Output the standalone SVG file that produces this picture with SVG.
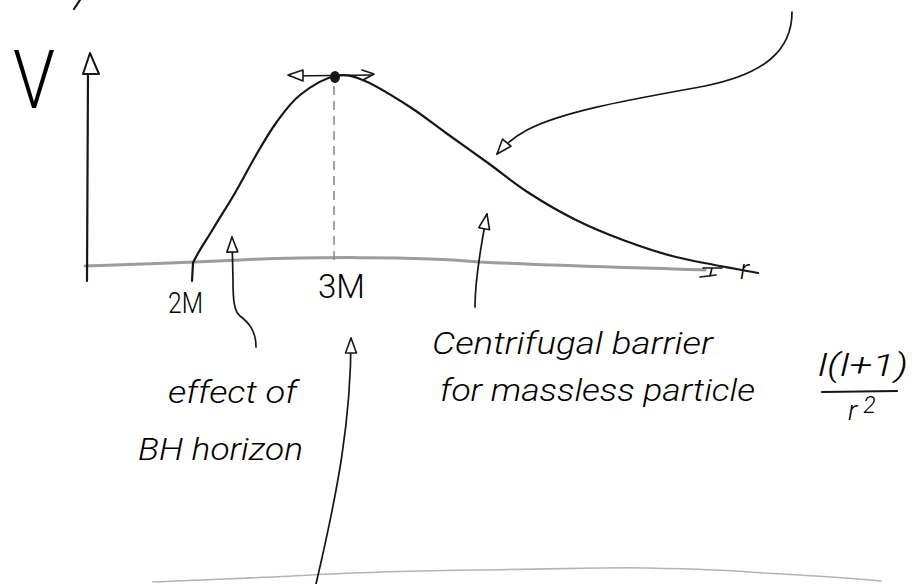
<svg xmlns="http://www.w3.org/2000/svg" width="921" height="584" viewBox="0 0 921 584">
  <style>
    .ink { fill: none; stroke: #161616; stroke-width: 2.2; stroke-linecap: round; stroke-linejoin: round; }
    .thin { fill: none; stroke: #161616; stroke-width: 1.7; stroke-linecap: round; stroke-linejoin: round; }
    .gray { fill: none; stroke: #9c9c9c; stroke-width: 3; stroke-linecap: round; }
    .faint { fill: none; stroke: #b4b4b4; stroke-width: 1.6; stroke-linecap: round; }
    .dash { fill: none; stroke: #8a8a8a; stroke-width: 1.6; stroke-dasharray: 9 6; }
    .hand { font-family: Roboto, "Liberation Sans", "DejaVu Sans", sans-serif; font-weight: 300; fill: #000; font-style: italic; }
    .up { font-family: Roboto, "Liberation Sans", "DejaVu Sans", sans-serif; font-weight: 300; fill: #000; }
  </style>
  <defs>
    <marker id="ah" viewBox="-17 -8 19 16" refX="0" refY="0" markerWidth="19" markerHeight="16" markerUnits="userSpaceOnUse" orient="auto">
      <path d="M0,0 L-15,-5.5 L-15,5.5 Z" fill="#fff" stroke="#161616" stroke-width="1.6" stroke-linejoin="round"/>
    </marker>
  </defs>
  <rect width="921" height="584" fill="#fff"/>

  <!-- cut-off stroke at the top edge -->
  <path class="ink" d="M74,9 L80,0"/>

  <!-- axes -->
  <g id="axes">
    <path class="gray" d="M85,266 C150,264 200,262 240,260 C300,257 420,256 480,262 C560,266 650,268 705,270"/>
    <path class="ink" d="M87,281 L88,73"/>
    <polygon points="90,53 83,74 99,74" fill="#fff" stroke="#161616" stroke-width="2" stroke-linejoin="round"/>
    <path class="thin" d="M703,268 L722,268 M712,268 L710,276 M700,277 L716,275"/>
  </g>

  <g id="label-V">
    <text class="up" x="13" y="108" font-size="82" font-weight="200" textLength="42" lengthAdjust="spacingAndGlyphs">V</text>
  </g>
  <g id="label-r">
    <text class="hand" x="740" y="279" font-size="28" font-weight="400">r</text>
  </g>

  <!-- potential curve -->
  <g id="curve">
    <path class="ink" d="M192,281 L193,263 C196.5,254.3 206,240.7 213,229 C220,217.3 228,205 235,193 C242,181 248.2,168.7 255,157 C261.8,145.3 268.5,133.3 276,123 C283.5,112.7 290.2,102.8 300,95 C309.8,87.2 324.2,78.3 335,76 C345.8,73.7 352.5,75.8 365,81 C377.5,86.2 396.5,98.3 410,107 C423.5,115.7 433,123.7 446,133 C459,142.3 474.2,153 488,163 C501.8,173 514.3,183.5 529,193 C543.7,202.5 560.3,212.2 576,220 C591.7,227.8 606.3,233.8 623,240 C639.7,246.2 653.5,251.5 676,257 C698.5,262.5 744.3,270.3 758,273"/>
  </g>

  <!-- unstable point at the peak -->
  <g id="peak">
    <path class="dash" d="M334,86 L334,262"/>
    <path class="thin" d="M290,76 L372,75"/>
    <polygon points="288,75 303,70 303,81" fill="#fff" stroke="#161616" stroke-width="1.6" stroke-linejoin="round"/>
    <path class="thin" d="M362,70 L374,74 L363,80"/>
    <ellipse cx="335" cy="77" rx="5" ry="6" fill="#161616"/>
  </g>

  <g id="label-2M">
    <text class="up" x="168" y="313" font-size="30" textLength="35" lengthAdjust="spacingAndGlyphs">2M</text>
  </g>
  <g id="label-3M">
    <text class="up" x="318" y="298" font-size="34" textLength="47" lengthAdjust="spacingAndGlyphs">3M</text>
  </g>

  <g id="note-horizon">
    <text class="hand" x="168" y="403" font-size="31" textLength="129" lengthAdjust="spacingAndGlyphs">effect of</text>
    <text class="hand" x="138" y="460" font-size="31" textLength="165" lengthAdjust="spacingAndGlyphs">BH horizon</text>
  </g>

  <g id="note-barrier">
    <text class="hand" x="432" y="354" font-size="32" textLength="281" lengthAdjust="spacingAndGlyphs">Centrifugal barrier</text>
    <text class="hand" x="440" y="401" font-size="31" textLength="315" lengthAdjust="spacingAndGlyphs">for massless particle</text>
  </g>

  <g id="fraction">
    <text class="hand" x="818" y="376" font-size="32" textLength="90" lengthAdjust="spacingAndGlyphs">l(l+1)</text>
    <path class="ink" d="M822,392 L897,391"/>
    <text class="hand" x="848" y="420" font-size="28">r<tspan dx="6" dy="-7" font-size="23">2</tspan></text>
  </g>

  <!-- bottom faint line -->
  <path class="faint" d="M153,582 C220,579 280,577 311,575 C360,572 420,571 470,570 C560,569 620,567 646,568 C700,569 740,571 764,573 C820,576 860,579 881,581"/>

  <!-- connectors -->
  <g id="connectors">
    <path class="thin" marker-end="url(#ah)" d="M792,12 C792,50 765,74 705,86 C640,98 565,110 527,130 C512,138 503,147 497,154"/>
    <path class="thin" marker-end="url(#ah)" d="M256,347 C256,330 248,322 240,316 C234,311 233,300 233,280 L232,237"/>
    <path class="thin" marker-end="url(#ah)" d="M475,307 C475,280 480,250 487,214"/>
    <path class="thin" marker-end="url(#ah)" d="M316,584 C338,490 351,420 351,338"/>
  </g>
</svg>
